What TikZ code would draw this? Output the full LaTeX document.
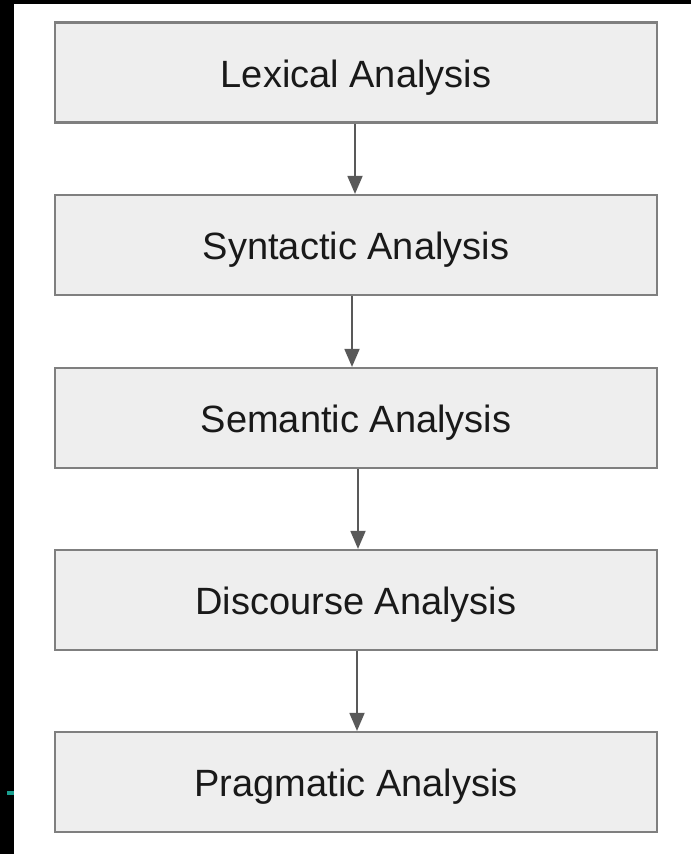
\documentclass[tikz,border=0pt]{standalone}
\usepackage{fontspec}
\setmainfont{Liberation Sans}
\usetikzlibrary{arrows.meta}
\definecolor{boxfill}{HTML}{EEEEEE}
\definecolor{boxline}{HTML}{7F7F7F}
\definecolor{arrowgray}{HTML}{595959}
\definecolor{tealmark}{HTML}{1A9E8F}
\tikzset{
  stage/.style={draw=boxline, fill=boxfill, line width=2.2pt, minimum width=602pt,
    minimum height=100pt, inner sep=0pt, text height=29pt, text depth=0pt,
    font=\fontsize{38}{44}\selectfont, text=black!90},
  flow/.style={draw=arrowgray, line width=1.8pt,
    -{Triangle[length=18pt,width=15pt]}}
}
\begin{document}
\begin{tikzpicture}[x=1pt,y=-1pt]
  \useasboundingbox (0,0) rectangle (691,854);
  \fill[white] (0,0) rectangle (691,854);
  % dark frame edges
  \fill[black] (0,0) rectangle (14,854);
  \fill[black] (0,0) rectangle (691,3.5);
  \fill[tealmark] (7,791) rectangle (14,795);
  % pipeline stages
  \node[stage] (lex) at (356,72.5) {Lexical Analysis};
  \node[stage] (syn) at (356,245) {Syntactic Analysis};
  \node[stage] (sem) at (356,418) {Semantic Analysis};
  \node[stage] (dis) at (356,600) {Discourse Analysis};
  \node[stage] (pra) at (356,782) {Pragmatic Analysis};
  % connectors
  \draw[flow] (lex.south -| 355,0) -- (syn.north -| 355,0);
  \draw[flow] (syn.south -| 352,0) -- (sem.north -| 352,0);
  \draw[flow] (sem.south -| 358,0) -- (dis.north -| 358,0);
  \draw[flow] (dis.south -| 357,0) -- (pra.north -| 357,0);
\end{tikzpicture}
\end{document}
